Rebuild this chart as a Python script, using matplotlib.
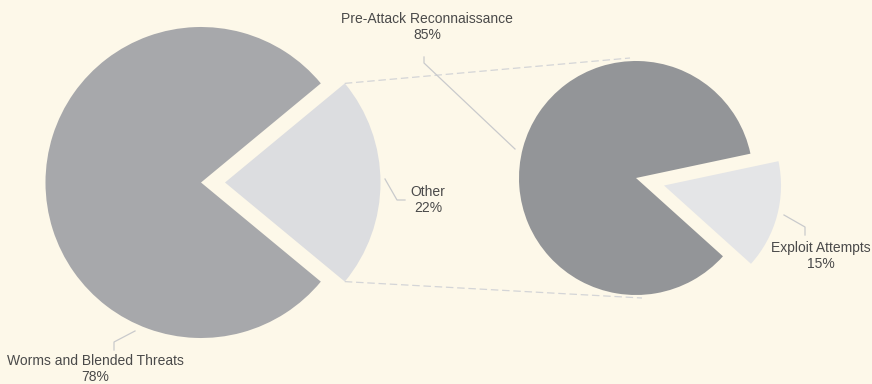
import numpy as np
import matplotlib
matplotlib.use("Agg")
import matplotlib.pyplot as plt

# Threat breakdown: overall mix and the split inside "Other"
main_labels = ["Other", "Worms and Blended Threats"]
main_values = [22, 78]
sub_labels = ["Exploit Attempts", "Pre-Attack Reconnaissance"]
sub_values = [15, 85]

W, H = 872, 384
BG = "#fdf8e9"
TEXT = "#4a4a4a"
LEADER = "#c9cacc"

plt.rcParams["font.family"] = ["Liberation Sans", "DejaVu Sans"]

fig = plt.figure(figsize=(W / 100, H / 100), dpi=100, facecolor=BG)
ax = fig.add_axes([0, 0, 1, 1])

# left pie, "Other" pulled out to the right
main_center, main_r = (201, 182.5), 155.5
main_wedges, _ = ax.pie(main_values, center=main_center, radius=main_r,
                        startangle=-main_values[0] * 3.6 / 2,
                        colors=["#dcdde0", "#a7a8ab"], explode=[24, 0],
                        wedgeprops=dict(linewidth=0), frame=True)

# right pie, "Exploit Attempts" pulled out
sub_center, sub_r = (636, 178), 117
sub_wedges, _ = ax.pie(sub_values, center=sub_center, radius=sub_r,
                       startangle=-12, colors=["#e4e5e7", "#939598"],
                       explode=[29, 0], wedgeprops=dict(linewidth=0), frame=True)
ax.set_xlim(0, W)
ax.set_ylim(H, 0)
ax.set_aspect("equal")
ax.axis("off")

# dashed connectors from the "Other" slice to the breakdown pie
other = main_wedges[0]
cx, cy = other.center
for ang, end in [(other.theta1, (630, 58)), (other.theta2, (642, 298))]:
    x0 = cx + other.r * np.cos(np.radians(ang))
    y0 = cy + other.r * np.sin(np.radians(ang))
    ax.plot([x0, end[0]], [y0, end[1]], color="#d4d5d7", lw=0.9,
            ls=(0, (6, 3)), zorder=0)


def callout(text, xy, points):
    xs, ys = zip(*points)
    ax.plot(xs, ys, color=LEADER, lw=0.9, zorder=1)
    ax.text(xy[0], xy[1], text, ha="center", va="center", color=TEXT,
            fontsize=10, linespacing=1.25)


callout(f"{main_labels[1]}\n{main_values[1]}%", (95, 369),
        [(135, 331), (114, 342), (114, 350)])
callout(f"{main_labels[0]}\n{main_values[0]}%", (428, 200),
        [(385, 179), (397, 200), (405, 200)])
callout(f"{sub_labels[1]}\n{sub_values[1]}%", (427, 27),
        [(424, 57), (424, 63), (515, 149)])
callout(f"{sub_labels[0]}\n{sub_values[0]}%", (821, 256),
        [(784, 215), (805, 227), (805, 235)])

fig.savefig("out.png", dpi=100, facecolor=BG)
